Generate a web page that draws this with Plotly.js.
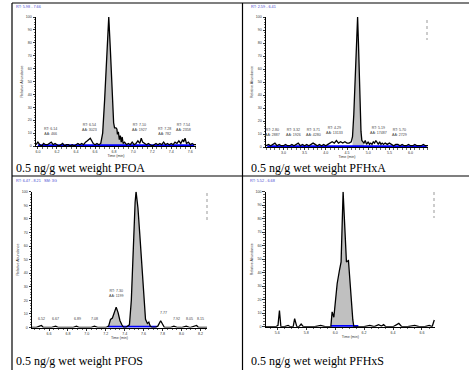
<!DOCTYPE html>
<html><head><meta charset="utf-8">
<script src="https://cdn.plot.ly/plotly-3.0.1.min.js"></script>
<style>html,body{margin:0;padding:0;background:#fff}#chart{width:469px;height:370px}</style>
</head><body><div id="chart"></div>
<script>
// ---------- DATA ----------
// PFOA
const pfoaTime = [5.98,6.00,6.02,6.04,6.06,6.08,6.10,6.12,6.14,6.16,6.18,6.20,6.22,6.24,6.26,6.28,6.30,6.32,6.34,6.36,6.38,6.40,6.42,6.44,6.46,6.48,6.50,6.52,6.55,6.58,6.60,6.62,6.64,6.66,6.68,6.70,6.72,6.744,6.76,6.78,6.795,6.805,6.82,6.83,6.835,6.845,6.855,6.865,6.875,6.885,6.895,6.91,6.93,6.95,6.97,6.99,7.01,7.03,7.05,7.07,7.085,7.10,7.12,7.14,7.16,7.18,7.20,7.22,7.24,7.26,7.28,7.30,7.32,7.34,7.36,7.38,7.40,7.42,7.44,7.46,7.48,7.50,7.52,7.53,7.545,7.56,7.58,7.60,7.62,7.64,7.66];
const pfoaAbund = [1,3,1,0,2,1,1,2,3,1,2,1,0,1,2,0,1,1,0,1,0,1,2,1,2,1,3,4,6,2,1,2,1,2,10,35,70,100,76,42,18,14,14,13,9,11,5,8,3,7,2,3,1,2,1,3,1,2,4,2,6,3,2,1,2,1,0,1,2,1,2,1,3,1,2,1,2,1,3,2,4,2,5,3,6,2,3,1,2,1,1];
const pfoaPeakWin = [[6.66, 6.91]];
const pfoaBaseline = [6.0, 7.64];
const pfoaLabels = [["RT: 6.14<br>AA: 466",6.13,6],["RT: 6.54<br>AA: 3023",6.544,9],["RT: 7.10<br>AA: 1927",7.07,9],["RT: 7.28<br>AA: 782",7.33,6],["RT: 7.54<br>AA: 2358",7.526,9]];

// PFHxA
const pfhxaTime = [2.59,2.65,2.70,2.75,2.80,2.85,2.90,2.95,3.00,3.05,3.10,3.15,3.20,3.25,3.30,3.35,3.40,3.45,3.50,3.55,3.60,3.65,3.70,3.75,3.80,3.85,3.90,3.95,4.00,4.05,4.10,4.15,4.20,4.25,4.30,4.35,4.40,4.45,4.50,4.55,4.60,4.63,4.66,4.69,4.72,4.75,4.77,4.79,4.81,4.83,4.85,4.88,4.90,4.93,4.96,5.00,5.03,5.06,5.09,5.12,5.15,5.18,5.21,5.24,5.27,5.30,5.33,5.36,5.40,5.45,5.50,5.55,5.60,5.65,5.70,5.75,5.80,5.85,5.90,5.95,6.00,6.05,6.10,6.15,6.20,6.25,6.30,6.35,6.41];
const pfhxaAbund = [1,2,1,2,3,1,2,1,1,2,1,1,2,1,2,3,1,2,1,2,1,2,3,2,1,2,1,2,1,2,3,4,3,5,3,4,3,4,3,3,4,8,25,52,85,100,80,52,30,12,5,4,3,5,2,4,2,3,2,4,3,5,3,2,4,2,3,2,3,2,3,2,1,2,2,1,2,1,1,2,1,1,2,1,1,1,2,1,1];
const pfhxaPeakWin = [[4.61, 4.90]];
const pfhxaBaseline = [2.62, 6.38];
const pfhxaLabels = [["RT: 2.80<br>AA: 2887",2.74,6],["RT: 3.32<br>AA: 1926",3.24,6],["RT: 3.71<br>AA: 4280",3.70,6],["RT: 4.29<br>AA: 13133",4.21,7.5],["RT: 5.19<br>AA: 17487",5.24,7.5],["RT: 5.70<br>AA: 2729",5.74,6]];

// PFOS
const pfosTime = [6.42,6.46,6.50,6.52,6.54,6.58,6.62,6.67,6.70,6.75,6.80,6.85,6.89,6.92,6.96,7.00,7.04,7.08,7.12,7.16,7.20,7.23,7.25,7.27,7.29,7.31,7.33,7.35,7.37,7.39,7.41,7.43,7.45,7.47,7.49,7.51,7.52,7.54,7.56,7.58,7.60,7.62,7.64,7.655,7.67,7.69,7.72,7.75,7.78,7.80,7.82,7.85,7.88,7.92,7.96,8.00,8.05,8.09,8.13,8.16,8.18,8.21,8.27];
const pfosAbund = [0,0,1,1.5,0,0,0,1,0,0,0,0,1,0,0,0,0,1,0,0,0,1,6,7,12,15,11,5,2,0,0,1,2,20,62,92,100,88,68,46,24,6,3,4,1,0,0,1,5,2,0,0,0,1,0,0,1,0,1,1.5,0,0,0];
const pfosPeakWin = [[7.23, 7.39],[7.45, 7.67]];
const pfosBaseline = [7.22, 7.74];
const pfosLabels = [["6.52",6.52,3],["6.67",6.67,3],["6.89",6.90,3],["7.08",7.08,3],["RT: 7.30<br>AA: 1199",7.31,20],["7.77",7.81,7.5],["7.92",7.95,3],["8.05",8.08,3],["8.15",8.20,3.5]];

// PFHxS
const pfhxsTime = [5.52,5.56,5.59,5.605,5.615,5.625,5.65,5.675,5.69,5.71,5.72,5.735,5.75,5.765,5.78,5.82,5.86,5.90,5.93,5.97,5.979,5.991,6.002,6.014,6.030,6.041,6.055,6.069,6.078,6.092,6.106,6.122,6.129,6.16,6.20,6.24,6.27,6.30,6.32,6.335,6.35,6.40,6.44,6.46,6.50,6.55,6.58,6.62,6.65,6.67,6.685];
const pfhxsAbund = [0,0,0,1,12,0,0,1,0,0,6,0,0,2,0,0,0,1,0,0,11,7,22,32,42,48,100,70,48,49,25,5,0,0,0,1,0,1.5,0.5,1.5,0,0,2.5,0,0,1,0,0,1,0,5];
const pfhxsPeakWin = [[5.97, 6.13]];
const pfhxsBaseline = [5.97, 6.16];
const pfhxsLabels = [];

// titles
const headers = ["RT: 5.98 - 7.66", "RT: 2.59 - 6.41", "RT: 6.47 - 8.21   SM: 3G", "RT: 5.52 - 6.68"];
const captions = ["0.5 ng/g wet weight PFOA", "0.5 ng/g wet weight PFHxA", "0.5 ng/g wet weight PFOS", "0.5 ng/g wet weight PFHxS"];
const yTitles = ["Relative Abundance", "Relative Abundance", "Relative Abundance", "Relative Abundance"];
const xTitle = "Time (min)";

// ---------- LAYOUT HELPERS ----------
const W = 469, H = 370;
const px = v => v / W;
const py = v => 1 - v / H;

const panels = [
  {t: pfoaTime, a: pfoaAbund, win: pfoaPeakWin, base: pfoaBaseline, labels: pfoaLabels,
   xr: [5.98, 7.66], x0: 36, x1: 196, yTop: 17, yBot: 146, dt: 0.2, mdt: 0.05, hx: 14, hy: 7, cx: 14, cy: 168},
  {t: pfhxaTime, a: pfhxaAbund, win: pfhxaPeakWin, base: pfhxaBaseline, labels: pfhxaLabels,
   xr: [2.59, 6.41], x0: 266, x1: 428, yTop: 17, yBot: 147, dt: 0.5, mdt: 0.1, hx: 249, hy: 7, cx: 249, cy: 168},
  {t: pfosTime, a: pfosAbund, win: pfosPeakWin, base: pfosBaseline, labels: pfosLabels,
   xr: [6.42, 8.27], x0: 32, x1: 207, yTop: 191.7, yBot: 327.5, dt: 0.2, mdt: 0.05, hx: 14, hy: 181, cx: 14, cy: 361},
  {t: pfhxsTime, a: pfhxsAbund, win: pfhxsPeakWin, base: pfhxsBaseline, labels: pfhxsLabels,
   xr: [5.52, 6.69], x0: 265.7, x1: 435, yTop: 191.7, yBot: 326.7, dt: 0.2, mdt: 0.05, hx: 248, hy: 181, cx: 249, cy: 361}
];

const traces = [];
const annotations = [];
const layout = {
  width: W, height: H, margin: {l: 0, r: 0, t: 0, b: 0},
  paper_bgcolor: '#ffffff', plot_bgcolor: 'rgba(0,0,0,0)',
  showlegend: false, font: {family: 'Liberation Sans, Arial, sans-serif', size: 4, color: '#000'},
  shapes: [
    {type: 'line', xref: 'paper', yref: 'paper', x0: px(12), x1: 1, y0: py(3), y1: py(3), line: {color: '#000', width: 1.2}},
    {type: 'line', xref: 'paper', yref: 'paper', x0: px(12), x1: px(12), y0: py(3), y1: 0, line: {color: '#000', width: 1.2}},
    {type: 'line', xref: 'paper', yref: 'paper', x0: px(242.5), x1: px(242.5), y0: py(3), y1: 0, line: {color: '#000', width: 1.2}},
    {type: 'line', xref: 'paper', yref: 'paper', x0: px(12), x1: 1, y0: py(176), y1: py(176), line: {color: '#000', width: 1.2}},
    {type: 'line', xref: 'paper', yref: 'paper', x0: px(427), x1: px(427), y0: py(20), y1: py(40), line: {color: '#999', width: 1, dash: 'dot'}},
    {type: 'line', xref: 'paper', yref: 'paper', x0: px(207), x1: px(207), y0: py(193), y1: py(220), line: {color: '#999', width: 1, dash: 'dot'}},
    {type: 'line', xref: 'paper', yref: 'paper', x0: px(434), x1: px(434), y0: py(192), y1: py(218), line: {color: '#999', width: 1, dash: 'dot'}}
  ],
  annotations: annotations
};

panels.forEach((p, i) => {
  const n = i + 1;
  const xa = n === 1 ? 'x' : 'x' + n;
  const ya = n === 1 ? 'y' : 'y' + n;
  // grey filled peak regions
  p.win.forEach(w => {
    const fx = [], fy = [];
    p.t.forEach((tt, k) => { if (tt >= w[0] && tt <= w[1]) { fx.push(tt); fy.push(p.a[k]); } });
    traces.push({x: fx, y: fy, xaxis: xa, yaxis: ya, type: 'scatter', mode: 'lines',
      fill: 'tozeroy', fillcolor: '#c0c0c0', line: {width: 0, color: 'rgba(0,0,0,0)'}, hoverinfo: 'skip'});
  });
  // blue integration baseline
  traces.push({x: p.base, y: [0.6, 0.6], xaxis: xa, yaxis: ya, type: 'scatter', mode: 'lines',
    line: {color: '#0000ff', width: 2}});
  // chromatogram
  traces.push({x: p.t, y: p.a, xaxis: xa, yaxis: ya, type: 'scatter', mode: 'lines',
    line: {color: '#000', width: 1.3}});

  layout['xaxis' + (n === 1 ? '' : n)] = {
    domain: [px(p.x0), px(p.x1)], anchor: ya, range: p.xr,
    showline: true, linecolor: '#000', linewidth: 1, showgrid: false, zeroline: false,
    ticks: 'outside', ticklen: 2, tickwidth: 0.8, tickcolor: '#000',
    dtick: p.dt, tick0: 0, tickformat: '.1f', tickfont: {size: 3.6, color: '#333'},
    minor: {dtick: p.mdt, ticks: 'outside', ticklen: 1.5, tickwidth: 0.6, tickcolor: '#000', showgrid: false},
    title: {text: xTitle, font: {size: 3.6, color: '#333'}, standoff: 1}
  };
  layout['yaxis' + (n === 1 ? '' : n)] = {
    domain: [py(p.yBot), py(p.yTop)], anchor: xa, range: [0, 100],
    showline: true, linecolor: '#000', linewidth: 1, showgrid: false, zeroline: false,
    ticks: 'outside', ticklen: 2.5, tickwidth: 0.8, tickcolor: '#000',
    dtick: 10, tick0: 0, tickfont: {size: 3.6, color: '#333'},
    minor: {dtick: 2, ticks: 'outside', ticklen: 1.5, tickwidth: 0.6, tickcolor: '#000', showgrid: false},
    title: {text: yTitles[i], font: {size: 3.6, color: '#333'}, standoff: 2}
  };
  // peak labels
  p.labels.forEach(l => {
    annotations.push({x: l[1], y: l[2], xref: xa, yref: ya, text: l[0], showarrow: false,
      font: {size: 3.6, color: '#444'}, yanchor: 'bottom', xanchor: 'center'});
  });
  // header
  annotations.push({x: px(p.hx), y: py(p.hy), xref: 'paper', yref: 'paper', text: headers[i], showarrow: false,
    xanchor: 'left', yanchor: 'middle', font: {size: 3.8, color: '#4a4ad0'}});
  // caption
  annotations.push({x: px(p.cx), y: py(p.cy), xref: 'paper', yref: 'paper', text: captions[i], showarrow: false,
    xanchor: 'left', yanchor: 'middle', font: {size: 12, family: 'Liberation Serif, Times New Roman, serif', color: '#000'}});
});

Plotly.newPlot('chart', traces, layout, {staticPlot: true, displayModeBar: false});
</script>
</body></html>
